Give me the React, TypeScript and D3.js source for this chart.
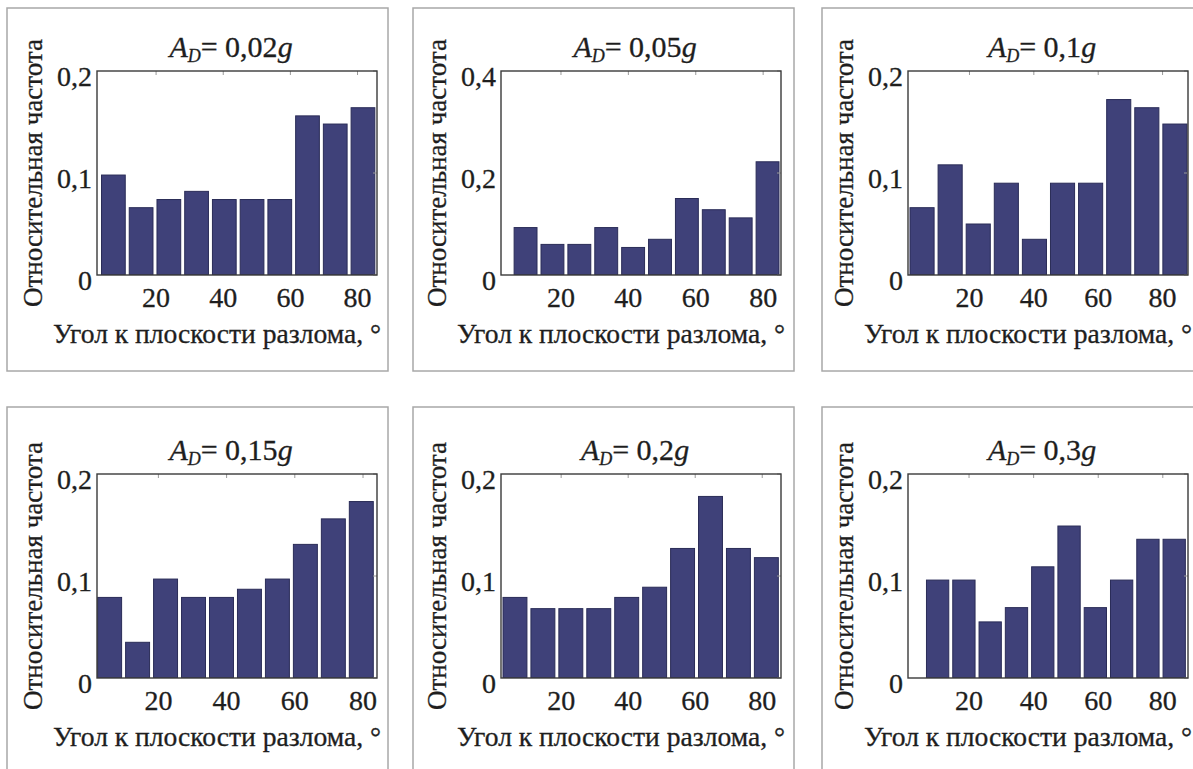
import React, { useEffect, useRef } from "react";
import * as d3 from "d3";

// ---- data ----
const panelLabels = ["0,02", "0,05", "0,1", "0,15", "0,2", "0,3"];
const freqA002 = [0.098, 0.066, 0.074, 0.082, 0.074, 0.074, 0.074, 0.156, 0.148, 0.164];
const freqA005 = [0.093, 0.06, 0.06, 0.093, 0.054, 0.07, 0.15, 0.128, 0.112, 0.222];
const freqA01 = [0.066, 0.108, 0.05, 0.09, 0.035, 0.09, 0.09, 0.172, 0.164, 0.148];
const freqA015 = [0.079, 0.035, 0.097, 0.079, 0.079, 0.087, 0.097, 0.131, 0.156, 0.173];
const freqA02 = [0.079, 0.068, 0.068, 0.068, 0.079, 0.089, 0.127, 0.178, 0.127, 0.118];
const freqA03 = [0.096, 0.096, 0.055, 0.069, 0.109, 0.149, 0.069, 0.096, 0.136, 0.136];
const panelFreqs = [freqA002, freqA005, freqA01, freqA015, freqA02, freqA03];
// histogram bin ranges (degrees)
const binRanges: [number, number][] = [
  [3.15, 85.75], [5.5, 85.3], [0.9, 88.2], [1.6, 83.6], [2.05, 85.4], [6.2, 87.6],
];
// x-axis limits (degrees)
const xLimits: [number, number][] = [
  [2.4, 85.8], [2.2, 85.3], [0.9, 87.9], [2.0, 84.1], [2.05, 85.6], [1.1, 87.8],
];
const yMaxes = [0.2, 0.4, 0.2, 0.2, 0.2, 0.2];
const xTickValues = [20, 40, 60, 80];
const yTickSets = [
  [0, 0.1, 0.2], [0, 0.2, 0.4], [0, 0.1, 0.2], [0, 0.1, 0.2], [0, 0.1, 0.2], [0, 0.1, 0.2],
];
const xTitle = "Угол к плоскости разлома, °";
const yTitle = "Относительная частота";

// ---- layout ----
const W = 1193;
const H = 769;
const colAxisLeft = [97, 501, 908];
const rowAxisTop = [71, 474];
const axisW = 280;
const axisH = 204;
const colFrameX = [7, 413, 822];
const rowFrameY = [8, 407];
const frameW = 381;
const rowFrameH = [363, 400];
const barFill = "#3f4179";
const barStroke = "#2a2c57";
const textColor = "#1e1e1e";
const SERIF = '"Liberation Serif"';

const fmt = (v: number) => (v === 0 ? "0" : d3.format(".1f")(v).replace(".", ","));

export default function App() {
  const ref = useRef<SVGSVGElement | null>(null);

  useEffect(() => {
    const svg = d3.select(ref.current);
    svg.selectAll("*").remove();
    svg.append("rect").attr("width", W).attr("height", H).attr("fill", "#fff");

    const txt = (g: any, size: number) =>
      g
        .append("text")
        .style("font-family", SERIF, "important")
        .style("font-size", `${size}px`)
        .attr("fill", textColor)
        .attr("stroke", textColor)
        .attr("stroke-width", 0.3);

    panelFreqs.forEach((vals, i) => {
      const col = i % 3;
      const row = Math.floor(i / 3);
      const left = colAxisLeft[col];
      const top = rowAxisTop[row];
      const x = d3.scaleLinear().domain(xLimits[i]).range([left, left + axisW]);
      const y = d3.scaleLinear().domain([0, yMaxes[i]]).range([top + axisH, top]);
      const [lo, hi] = binRanges[i];
      const bw = (hi - lo) / vals.length;
      const g = svg.append("g");

      g.append("rect")
        .attr("x", colFrameX[col])
        .attr("y", rowFrameY[row])
        .attr("width", frameW)
        .attr("height", rowFrameH[row])
        .attr("fill", "none")
        .attr("stroke", "#a8a8a8")
        .attr("stroke-width", 1.5);

      const clipId = `clip${i}`;
      g.append("clipPath")
        .attr("id", clipId)
        .append("rect")
        .attr("x", left)
        .attr("y", top)
        .attr("width", axisW)
        .attr("height", axisH);

      g.append("g")
        .attr("clip-path", `url(#${clipId})`)
        .selectAll("rect")
        .data(vals)
        .join("rect")
        .attr("x", (_: number, k: number) => x(lo + k * bw) + 2)
        .attr("width", (_: number, k: number) => x(lo + (k + 1) * bw) - 2 - (x(lo + k * bw) + 2))
        .attr("y", (v: number) => y(v))
        .attr("height", (v: number) => y(0) - y(v))
        .attr("fill", barFill)
        .attr("stroke", barStroke)
        .attr("stroke-width", 1);

      xTickValues.forEach((t) => {
        g.append("line")
          .attr("x1", x(t)).attr("x2", x(t))
          .attr("y1", top).attr("y2", top + 4)
          .attr("stroke", "#999");
      });
      yTickSets[i].forEach((t) => {
        g.append("line")
          .attr("x1", left + axisW).attr("x2", left + axisW - 4)
          .attr("y1", y(t)).attr("y2", y(t))
          .attr("stroke", "#999");
      });

      g.append("rect")
        .attr("x", left).attr("y", top)
        .attr("width", axisW).attr("height", axisH)
        .attr("fill", "none")
        .attr("stroke", "#3a3a3a")
        .attr("stroke-width", 1.4);

      xTickValues.forEach((t) => {
        txt(g, 28)
          .attr("x", x(t))
          .attr("y", top + axisH + 32)
          .attr("text-anchor", "middle")
          .text(String(t));
      });
      yTickSets[i].forEach((t) => {
        txt(g, 28)
          .attr("x", left - 5)
          .attr("y", y(t) + 15)
          .attr("text-anchor", "end")
          .text(fmt(t));
      });

      const title = txt(g, 30)
        .attr("x", left + axisW / 2 - 6)
        .attr("y", top - 14)
        .attr("text-anchor", "middle");
      title.append("tspan").style("font-style", "italic").text("A");
      title.append("tspan").style("font-style", "italic").style("font-size", "18px").attr("dy", 5).text("D");
      title.append("tspan").attr("dy", -5).text("= " + panelLabels[i]);
      title.append("tspan").style("font-style", "italic").text("g");

      txt(g, 27)
        .attr("x", left - 44)
        .attr("y", top + axisH + 68)
        .attr("textLength", 328)
        .attr("lengthAdjust", "spacingAndGlyphs")
        .text(xTitle);

      txt(g, 27)
        .attr("transform", `translate(${left - 55},${top + axisH / 2}) rotate(-90)`)
        .attr("text-anchor", "middle")
        .attr("textLength", 268)
        .attr("lengthAdjust", "spacingAndGlyphs")
        .text(yTitle);
    });
  }, []);

  return (
    <svg
      ref={ref}
      width={W}
      height={H}
      style={{ position: "fixed", left: 0, top: 0, background: "#fff" }}
    >
      <style>{`svg text, svg tspan { font-family: "Liberation Serif" !important; }`}</style>
    </svg>
  );
}
